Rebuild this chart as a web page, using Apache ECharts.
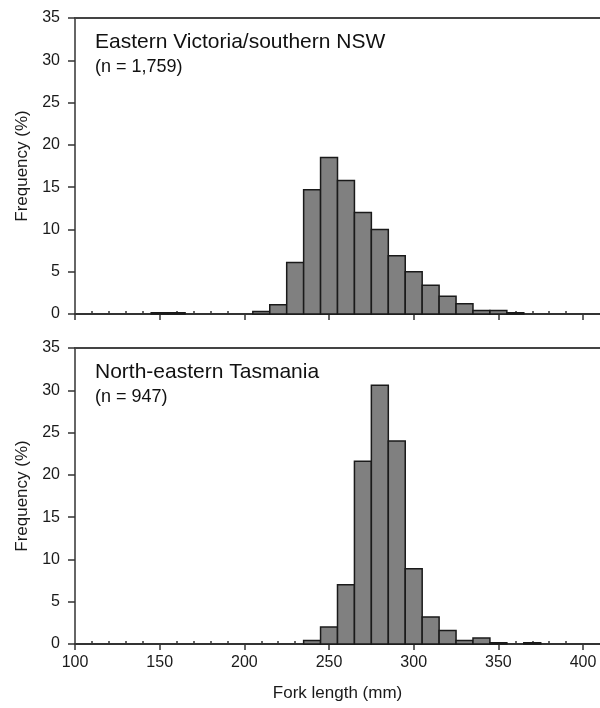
<!DOCTYPE html>
<html>
<head>
    <meta charset="utf-8">
    <title>Fork length frequency</title>
    <script src="https://cdn.jsdelivr.net/npm/echarts@6/dist/echarts.min.js"></script>
    <style>
        html, body { margin: 0; padding: 0; background: #fff; }
    </style>
</head>
<body>
    <div id="main" style="width: 600px;height: 708px;"></div>
    <script type="text/javascript">
        // bins are 10 mm wide, values are bin centres
        var binWidth = 10;

        var eastTitle = 'Eastern Victoria/southern NSW';
        var eastN = '(n = 1,759)';
        var eastBins = [150, 160, 210, 220, 230, 240, 250, 260, 270, 280, 290, 300, 310, 320, 330, 340, 350, 360];
        var eastFreq = [0.15, 0.15, 0.3, 1.1, 6.1, 14.7, 18.5, 15.8, 12.0, 10.0, 6.9, 5.0, 3.4, 2.1, 1.2, 0.4, 0.4, 0.15];

        var tasTitle = 'North-eastern Tasmania';
        var tasN = '(n = 947)';
        var tasBins = [240, 250, 260, 270, 280, 290, 300, 310, 320, 330, 340, 350, 360, 370];
        var tasFreq = [0.4, 2.0, 7.0, 21.6, 30.6, 24.0, 8.9, 3.2, 1.6, 0.4, 0.7, 0.15, 0, 0.15];

        var majorTicks = [100, 150, 200, 250, 300, 350, 400];
        var minorTicks = [];
        for (var t = 110; t < 410; t += 10) {
            if (t % 50 !== 0) minorTicks.push(t);
        }

        var xMin = 100, xMax = 410;
        var textFont = '"Liberation Sans", Arial, sans-serif';
        var textColor = '#1a1a1a';

        function pairs(xs, ys) {
            return xs.map(function (x, i) { return [x, ys[i]]; });
        }

        function renderBin(params, api) {
            var x = api.value(0), y = api.value(1);
            if (!y) return null;
            var p0 = api.coord([x - binWidth / 2, y]);
            var p1 = api.coord([x + binWidth / 2, 0]);
            return {
                type: 'rect',
                shape: { x: p0[0], y: p0[1], width: p1[0] - p0[0], height: p1[1] - p0[1] },
                style: { fill: '#808080', stroke: '#1a1a1a', lineWidth: 1.5 }
            };
        }

        var grids = [
            { left: 75, right: 0, top: 18, height: 296 },
            { left: 75, right: 0, top: 348, height: 296 }
        ];

        var xAxes = [], yAxes = [];
        grids.forEach(function (g, gi) {
            var isBottom = gi === 1;
            // main x axis: line, major ticks, labels only in the lower panel
            xAxes.push({
                type: 'value', gridIndex: gi, min: xMin, max: xMax,
                axisLine: { lineStyle: { color: '#333', width: 2 } },
                axisTick: { customValues: majorTicks, length: 6, lineStyle: { color: '#333', width: 1.5 } },
                axisLabel: {
                    show: isBottom, customValues: majorTicks, margin: 11,
                    fontFamily: textFont, fontSize: 16, color: textColor
                },
                splitLine: { show: false },
                name: isBottom ? 'Fork length (mm)' : '',
                nameLocation: 'middle', nameGap: 41,
                nameTextStyle: { fontFamily: textFont, fontSize: 17, color: textColor }
            });
            // minor ticks every 10 mm
            xAxes.push({
                type: 'value', gridIndex: gi, min: xMin, max: xMax,
                axisLine: { show: false },
                axisTick: { customValues: minorTicks, length: 3, lineStyle: { color: '#333', width: 1.5 } },
                axisLabel: { show: false },
                splitLine: { show: false }
            });
            // top frame line
            xAxes.push({
                type: 'value', gridIndex: gi, min: xMin, max: xMax, position: 'top',
                axisLine: { lineStyle: { color: '#444', width: 2 } },
                axisTick: { show: false }, axisLabel: { show: false }, splitLine: { show: false }
            });

            yAxes.push({
                type: 'value', gridIndex: gi, min: 0, max: 35, interval: 5,
                axisLine: { show: true, lineStyle: { color: '#333', width: 1.5 } },
                axisTick: { show: true, length: 7, lineStyle: { color: '#333', width: 1.5 } },
                axisLabel: { margin: 15, fontFamily: textFont, fontSize: 16, color: textColor },
                splitLine: { show: false },
                name: 'Frequency (%)', nameLocation: 'middle', nameGap: 42,
                nameTextStyle: { fontFamily: textFont, fontSize: 17, color: textColor }
            });
            // right frame line
            yAxes.push({
                type: 'value', gridIndex: gi, min: 0, max: 35, position: 'right',
                axisLine: { show: true, lineStyle: { color: '#bbb', width: 1 } },
                axisTick: { show: false }, axisLabel: { show: false }, splitLine: { show: false }
            });
        });

        function panelTitle(text, sub, top) {
            return {
                text: text, subtext: sub, left: 95, top: top, itemGap: 5, padding: 0,
                textStyle: { fontFamily: textFont, fontSize: 21, fontWeight: 'normal', color: '#111' },
                subtextStyle: { fontFamily: textFont, fontSize: 18, color: '#111' }
            };
        }

        var myChart = echarts.init(document.getElementById('main'));
        var option = {
            animation: false,
            backgroundColor: '#fff',
            title: [panelTitle(eastTitle, eastN, 32), panelTitle(tasTitle, tasN, 362)],
            grid: grids,
            xAxis: xAxes,
            yAxis: yAxes,
            series: [{
                type: 'custom', xAxisIndex: 0, yAxisIndex: 0,
                renderItem: renderBin, encode: { x: 0, y: 1 },
                data: pairs(eastBins, eastFreq)
            }, {
                type: 'custom', xAxisIndex: 3, yAxisIndex: 2,
                renderItem: renderBin, encode: { x: 0, y: 1 },
                data: pairs(tasBins, tasFreq)
            }]
        };
        myChart.setOption(option);
    </script>
</body>
</html>
